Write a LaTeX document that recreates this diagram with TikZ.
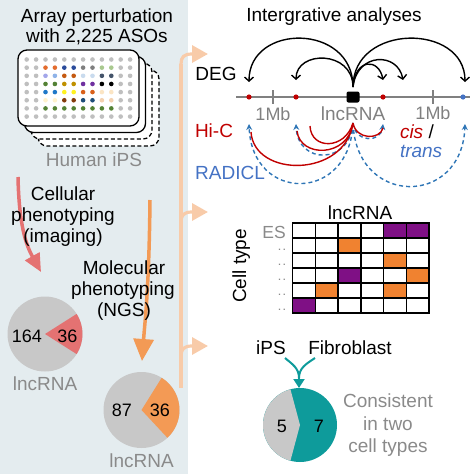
\documentclass[tikz,border=0pt]{standalone}
\usepackage{fontspec}
\setmainfont{Liberation Sans}
\usetikzlibrary{arrows.meta}
\definecolor{panel}{HTML}{E4ECEF}
\definecolor{txtgray}{HTML}{8A8A8A}
\definecolor{piegray}{HTML}{C8C8C8}
\definecolor{piered}{HTML}{E47272}
\definecolor{pieorange}{HTML}{F39A55}
\definecolor{peach}{HTML}{F8CBA9}
\definecolor{hicred}{HTML}{C00000}
\definecolor{radblue}{HTML}{4472C4}
\definecolor{arcblue}{HTML}{2E75B6}
\definecolor{tealc}{HTML}{0E9B9B}
\definecolor{hmpurple}{HTML}{7F1085}
\definecolor{hmorange}{HTML}{F08230}
\definecolor{chromgray}{HTML}{808080}
% dot colours
\definecolor{dg}{HTML}{BFBFBF}
\definecolor{dor}{HTML}{E36C2E}
\definecolor{dnv}{HTML}{2B4C9B}
\definecolor{ddg}{HTML}{7F7F7F}
\definecolor{dlg}{HTML}{A9C98F}
\definecolor{dlv}{HTML}{A3A6EA}
\definecolor{dlb}{HTML}{8FB3E8}
\definecolor{dbo}{HTML}{C55A11}
\definecolor{dpb}{HTML}{C9DBEE}
\definecolor{dsl}{HTML}{44546A}
\definecolor{dgr}{HTML}{548235}
\definecolor{dgo}{HTML}{BF9000}
\definecolor{dpu}{HTML}{7030A0}
\definecolor{dbk}{HTML}{000000}
\definecolor{dbl}{HTML}{1F78C8}
\definecolor{dye}{HTML}{FFF21F}
\definecolor{dro}{HTML}{D9601A}
\definecolor{dpy}{HTML}{FBE5C4}
\definecolor{dcr}{HTML}{FFF2CC}
\definecolor{dbr}{HTML}{843C0C}
\definecolor{ddb}{HTML}{1F4E79}
\definecolor{dtn}{HTML}{F4D1B0}
\begin{document}
\begin{tikzpicture}[x=1pt,y=-1pt,
  every node/.style={inner sep=0pt,outer sep=0pt},
  big/.style={font=\fontsize{19}{21}\selectfont,anchor=base},
  num/.style={font=\fontsize{18}{20}\selectfont,anchor=base},
  plate/.style={line width=1.3pt,fill=white,rounded corners=9pt},
  deg/.style={line width=1.4pt,-{Straight Barb[length=4pt,width=9pt]}},
  hic/.style={hicred,line width=1.4pt},
  radicl/.style={arcblue,line width=1.4pt,dash pattern=on 4pt off 3pt,-{Stealth[length=6pt,width=6pt]}},
  peachline/.style={peach,line width=3.2pt,-{Triangle[length=16pt,width=17pt]}},
  cellline/.style={line width=1.4pt},
  rowdots/.style={font=\fontsize{9}{10}\selectfont\bfseries,text=txtgray,anchor=base}]
\useasboundingbox (0,0) rectangle (474,474);
% left panel
\fill[panel] (0,0) rectangle (188,474);

% title
\node[big] (t1) at (97,22) {Array perturbation};
\node[big] (t2) at (97,42) {with 2,225 ASOs};

% plates
\draw[plate,dash pattern=on 4pt off 2.5pt] (38,70) rectangle (159,146);
\draw[plate,dash pattern=on 4pt off 2.5pt] (31,63) rectangle (152,139);
\draw[plate] (24.5,56.5) rectangle (145.5,132.5);
\draw[plate] (18,50) rectangle (139,126);
\foreach \rowcols [count=\j] in {
 {dg,dg,dg,dg,dg,dg,dg,dg,dg,dg,dg,dg},
 {dg,dg,dor,dor,dnv,dnv,ddg,ddg,dlg,dlg,dg,dg},
 {dg,dg,dlv,dlb,dbo,dbo,dpb,dpb,dsl,dsl,dg,dg},
 {dg,dg,dgr,dgr,dgo,dgo,dpu,dpu,dbk,dbk,dg,dg},
 {dg,dg,dbl,dbl,dye,dye,dro,dro,dpy,dpy,dg,dg},
 {dg,dg,dcr,dcr,dbr,dbr,ddb,ddb,dtn,dtn,dg,dg},
 {dg,dg,dgr,dgr,dgr,dgr,dgr,dgr,dgr,dgr,dg,dg},
 {dg,dg,dg,dg,dg,dg,dg,dg,dg,dg,dg,dg}} {
  \foreach \c [count=\i] in \rowcols {
    \fill[\c] ({26.7+9.4*(\i-1)},{59.5+8.15*(\j-1)}) circle (2.3);
  }
}
\node[big,text=txtgray] (hips) at (94,166) {Human iPS};

% cellular phenotyping arrow
\coordinate (ra0) at (18,177);
\coordinate (ra1) at (41,272);
\draw[piered,line width=3.5pt,-{Triangle[length=18pt,width=16pt]}] (ra0) .. controls (19,225) and (26,245) .. (ra1);
\node[big] (c1) at (63,200) {Cellular};
\node[big] (c2) at (63,221) {phenotyping};
\node[big] (c3) at (63,242) {(imaging)};

% molecular phenotyping arrow
\coordinate (oa0) at (150,200);
\coordinate (oa1) at (142,361);
\draw[pieorange,line width=3.5pt,-{Triangle[length=22pt,width=20pt]}] (oa0) .. controls (149,290) and (145,320) .. (oa1);
\node[big] (m1) at (124,274) {Molecular};
\node[big] (m2) at (123,295) {phenotyping};
\node[big] (m3) at (124,316) {(NGS)};

% pie 1
\fill[piegray] (45,334) circle (37.5);
\fill[piered] (45,334) -- ++(-32.4:37.5) arc[start angle=-32.4,end angle=32.4,radius=37.5] -- cycle;
\node[num] (p1a) at (27,342) {164};
\node[num] (p1b) at (67.5,342) {36};
\node[big,text=txtgray] (p1l) at (45,390) {lncRNA};

% pie 2
\fill[piegray] (141.5,410) circle (38);
\fill[pieorange] (141.5,410) -- ++(-58:38) arc[start angle=-58,end angle=47,radius=38] -- cycle;
\node[num] (p2a) at (122,416) {87};
\node[num] (p2b) at (160,416) {36};
\node[big,text=txtgray] (p2l) at (141.5,467) {lncRNA};

% peach connector
\draw[peach,line width=3.2pt] (181,388) -- (181,64);
\draw[peachline] (181,64) .. controls (181,57) and (184,54) .. (192,54) -- (208,54);
\draw[peachline] (181,222) .. controls (181,215) and (184,212) .. (192,212) -- (208,212);
\draw[peachline] (181,356) .. controls (181,349) and (184,346) .. (192,346) -- (208,346);

% ---------- integrative analyses ----------
\node[big] (ia) at (334,21) {Intergrative analyses};
\node[big] (deg) at (216,80) {DEG};
\node[big,text=hicred] (hic) at (214,137.5) {Hi-C};
\node[big,text=radblue] (rad) at (230,179) {RADICL};
\node[big,anchor=base west] (cis) at (400,138.2) {{\color{hicred}\textit{cis}} /};
\node[big,anchor=base west,text=radblue] (trans) at (400,157.5) {\textit{trans}};

% chromosome
\coordinate (chL) at (236,97);
\coordinate (chR) at (470,97);
\draw[chromgray,line width=1.4pt] (chL) -- (chR);
\draw[chromgray,line width=1.4pt] (273,90) -- (273,104);
\draw[chromgray,line width=1.4pt] (433,90) -- (433,104);
\fill[hicred] (249,97) circle (2.6);
\fill[hicred] (296,97) circle (2.6);
\fill[hicred] (383,97) circle (2.6);
\fill[radblue] (463,97) circle (2.6);
\node[fill=black,rounded corners=2pt,minimum width=13pt,minimum height=11pt] (lnc) at (353,97) {};
\node[num,text=chromgray] (mb1) at (273,120) {1Mb};
\node[big,text=chromgray] (lncl) at (353,120.5) {lncRNA};
\node[num,text=chromgray] (mb2) at (433,119.5) {1Mb};

% DEG arcs
\coordinate (S) at (353,87);
\draw[deg] (S) .. controls (353,23) and (249,23) .. (249,82);
\draw[deg] (S) .. controls (353,50) and (296,50) .. (296,80);
\draw[deg] (S) .. controls (355,58) and (379,58) .. (383,80);
\draw[deg] (S) .. controls (357,52) and (398,52) .. (403,80);
\draw[deg] (S) .. controls (353,23) and (465,23) .. (465,82);

% Hi-C / RADICL arcs
\coordinate (T) at (353,123);
\draw[radicl] (T) .. controls (350,203) and (252,203) .. (249,124);
\draw[radicl] (T) .. controls (350,165) and (298,165) .. (296,124);
\draw[radicl] (T) .. controls (355,143) and (381,143) .. (383,124);
\draw[radicl] (T) .. controls (356,207) and (462,207) .. (465,124);
\draw[hic] (T) .. controls (345,178) and (254,178) .. (251,132);
\draw[hic] (T) .. controls (348,158) and (300,158) .. (297,131);
\draw[hic] (310,126) .. controls (311,150) and (345,150) .. (T);
\draw[hic] (T) .. controls (356,140) and (380,140) .. (383,128);

% ---------- heatmap ----------
\node[big] (hml) at (360,219) {lncRNA};
\node[big,rotate=90] (ct) at (246,266) {Cell type};
\node[font=\fontsize{17.5}{19}\selectfont,anchor=base,text=txtgray] (es) at (274,238.5) {ES};
\foreach \k in {2,...,6} {
  \node[rowdots] (dd\k) at (282,{223+15*(\k-1)+12.5}) {.\kern2.5pt.};
}
\foreach \i/\j/\c in {5/1/hmpurple,6/1/hmpurple,3/2/hmorange,5/3/hmorange,3/4/hmpurple,6/4/hmorange,2/5/hmorange,5/5/hmorange,1/6/hmpurple} {
  \fill[\c] ({292.7+22.7*(\i-1)},{223+15*(\j-1)}) rectangle ++(22.7,15);
}
\foreach \i in {0,...,6} {
  \draw[cellline] ({292.7+22.7*\i},222.3) -- ({292.7+22.7*\i},313.7);
}
\foreach \j in {0,...,6} {
  \draw[cellline] (292,{223+15*\j}) -- (429.6,{223+15*\j});
}

% ---------- consistent pie ----------
\node[big] (ips) at (271,354) {iPS};
\node[big] (fib) at (350,354) {Fibroblast};
\coordinate (tA) at (285,358);
\coordinate (tB) at (315,358);
\coordinate (tM) at (299,378);
\coordinate (tE) at (299,388);
\draw[tealc,line width=2pt] (tA) .. controls (292,364) and (299,368) .. (tM);
\draw[tealc,line width=2pt] (tB) .. controls (306,364) and (299,368) .. (tM);
\draw[tealc,line width=2pt,-{Triangle[length=9pt,width=11pt]}] (299,376) -- (tE);
\fill[tealc] (300,425) circle (37);
\fill[piegray] (300,425) -- ++(105:37) arc[start angle=105,end angle=255,radius=37] -- cycle;
\node[num] (n5) at (282,432) {5};
\node[num] (n7) at (319,432) {7};
\node[big,text=txtgray] (cs1) at (388,407) {Consistent};
\node[big,text=txtgray] (cs2) at (388,430) {in two};
\node[big,text=txtgray] (cs3) at (388,452) {cell types};
\end{tikzpicture}
\end{document}
